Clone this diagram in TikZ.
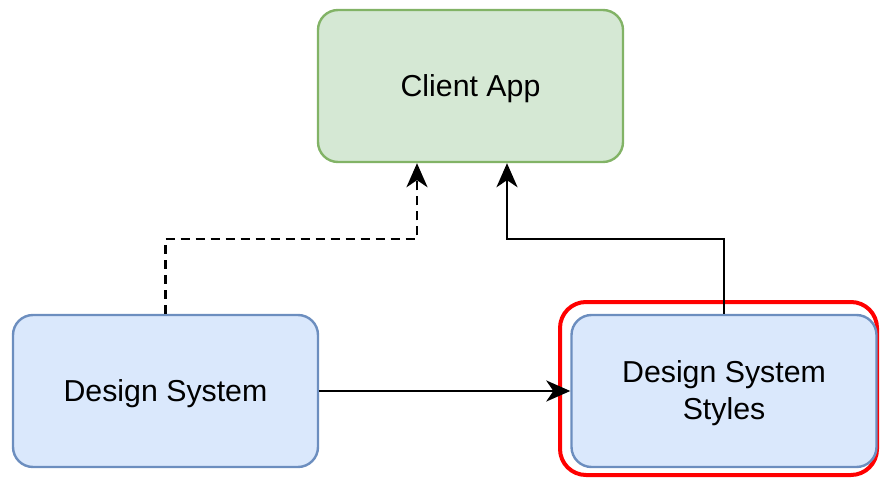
\documentclass[tikz,border=0pt]{standalone}
\usepackage{fontspec}
\setmainfont{Liberation Sans}
\usetikzlibrary{arrows.meta}
\definecolor{appfill}{HTML}{D5E8D4}
\definecolor{appline}{HTML}{82B366}
\definecolor{dsfill}{HTML}{DAE8FC}
\definecolor{dsline}{HTML}{6C8EBF}
\definecolor{hilite}{HTML}{FF0000}
% box label, set a little below the optical centre
\newcommand{\boxlabel}[1]{\raisebox{-3pt}[\height][\depth]{\begin{tabular}{@{}c@{}}#1\end{tabular}}}
\tikzset{
  box/.style={rectangle, rounded corners=20pt, line width=2.4pt,
    minimum width=305pt, minimum height=152pt, align=center,
    font=\fontsize{30.3}{37}\selectfont},
  appbox/.style={box, draw=appline, fill=appfill},
  dsbox/.style={box, draw=dsline, fill=dsfill},
  link/.style={line width=2.5pt, -{Stealth[length=24pt, width=21pt, inset=7pt]}},
  weaklink/.style={link, dash pattern=on 9pt off 6pt},
}
\begin{document}
\begin{tikzpicture}[x=1pt, y=-1pt]
  \useasboundingbox (0,0) rectangle (880,478);
  % highlight around the styles package
  \draw[hilite, line width=4pt, rounded corners=26pt] (560,302) rectangle (877,475);
  \node[appbox] (app) at (470.5,86) {\boxlabel{Client App}};
  \node[dsbox] (ds) at (165.5,391) {\boxlabel{Design System}};
  \node[dsbox] (sty) at (724,391) {\boxlabel{Design System\\Styles}};
  % bend points of the two upward connectors
  \coordinate (dj) at (417,239);
  \coordinate (sj) at (507,239);
  \draw[weaklink] (ds.north) |- (dj) -- (dj |- app.south);
  \draw[link] (sty.north) |- (sj) -- (sj |- app.south);
  \draw[link] (ds.east) -- (sty.west);
\end{tikzpicture}
\end{document}
